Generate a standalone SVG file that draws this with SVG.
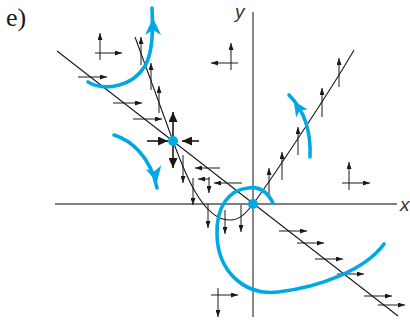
<svg xmlns="http://www.w3.org/2000/svg" width="410" height="320" viewBox="0 0 410 320">
<style>
.ax{stroke:#555;stroke-width:1.4;fill:none}
.ln{stroke:#1a1a1a;stroke-width:1.1;fill:none}
.ar{stroke:#1a1a1a;stroke-width:1;fill:none;marker-end:url(#a)}
.big{stroke:#1a1a1a;stroke-width:1.6;fill:none;marker-end:url(#A)}
.bl{stroke:#00A9E6;stroke-width:3.6;fill:none;stroke-linecap:round}
.bh{fill:#00A9E6}
.dot{fill:#00A9E6}
.lab{font-family:"Liberation Sans",Arial,sans-serif;font-style:italic;fill:#333}
</style>
<defs>
<marker id="a" viewBox="0 0 7 5" refX="7" refY="2.5" markerWidth="7" markerHeight="5" orient="auto" markerUnits="userSpaceOnUse"><path d="M0,0 L7,2.5 L0,5 Z" fill="#1a1a1a"/></marker>
<marker id="A" viewBox="0 0 10 9" refX="10" refY="4.5" markerWidth="10" markerHeight="9" orient="auto" markerUnits="userSpaceOnUse"><path d="M0,0 L10,4.5 L0,9 Z" fill="#1a1a1a"/></marker>
</defs>
<text x="6" y="26" font-family="'Liberation Serif','Times New Roman',serif" font-size="26" fill="#1a1a1a">e)</text>
<g id="axes">
<line class="ax" x1="55" y1="204" x2="397" y2="204"/>
<line class="ax" x1="253" y1="12" x2="253" y2="317"/>
<text class="lab" x="400" y="211" font-size="19">x</text>
<text class="lab" x="235" y="18" font-size="19">y</text>
</g>
<g id="connectors">
<line class="ln" x1="57" y1="51" x2="398" y2="316"/>
<path class="ln" d="M135,37 L173,141 C183,168 202,221 230,220 C240,220 246,213 253,204 C264,190 330,92 354,50"/>
<g id="field">
<line class="ar" x1="100" y1="60" x2="100" y2="33"/>
<line class="ar" x1="95" y1="53" x2="122" y2="53"/>
<line class="ar" x1="231" y1="70" x2="231" y2="43"/>
<line class="ar" x1="238" y1="63" x2="211" y2="63"/>
<line class="ar" x1="349" y1="190" x2="349" y2="162"/>
<line class="ar" x1="342" y1="183" x2="370" y2="183"/>
<line class="ar" x1="218" y1="288" x2="218" y2="317"/>
<line class="ar" x1="211" y1="295" x2="238" y2="295"/>
<line class="ar" x1="210" y1="179" x2="198" y2="179"/>
<line class="ar" x1="209" y1="177" x2="209" y2="193"/>
<line class="ar" x1="78" y1="77" x2="107" y2="77"/>
<line class="ar" x1="113" y1="103" x2="142" y2="103"/>
<line class="ar" x1="133" y1="119" x2="162" y2="119"/>
<line class="ar" x1="279" y1="231" x2="307" y2="231"/>
<line class="ar" x1="297" y1="243" x2="324" y2="243"/>
<line class="ar" x1="315" y1="259" x2="343" y2="259"/>
<line class="ar" x1="337" y1="274" x2="364" y2="274"/>
<line class="ar" x1="364" y1="296" x2="392" y2="296"/>
<line class="ar" x1="378" y1="305" x2="405" y2="305"/>
<line class="ar" x1="220" y1="168" x2="195" y2="168"/>
<line class="ar" x1="242" y1="183" x2="214" y2="183"/>
<line class="ar" x1="141" y1="65" x2="141" y2="37"/>
<line class="ar" x1="151" y1="90" x2="151" y2="63"/>
<line class="ar" x1="159" y1="113" x2="159" y2="86"/>
<line class="ar" x1="269" y1="197" x2="269" y2="168"/>
<line class="ar" x1="282" y1="180" x2="282" y2="152"/>
<line class="ar" x1="298" y1="155" x2="298" y2="127"/>
<line class="ar" x1="322" y1="117" x2="322" y2="88"/>
<line class="ar" x1="339" y1="87" x2="339" y2="58"/>
<line class="ar" x1="183" y1="155" x2="183" y2="183"/>
<line class="ar" x1="193" y1="178" x2="193" y2="205"/>
<line class="ar" x1="208" y1="204" x2="208" y2="228"/>
<line class="ar" x1="225" y1="210" x2="225" y2="234"/>
<line class="ar" x1="241" y1="205" x2="241" y2="232"/>
<line class="big" x1="147" y1="141" x2="168" y2="141"/>
<line class="big" x1="199" y1="141" x2="182" y2="141"/>
<line class="big" x1="173" y1="141" x2="173" y2="112"/>
<line class="big" x1="173" y1="141" x2="173" y2="168"/>
</g>
<g id="trajectories">
<path class="bl" d="M88,82 C105,92 133,86 145,66 C153,52 153,30 152,8"/>
<path class="bh" d="M153,18 L161,35 L153,30 L145,35 Z"/>
<path class="bl" d="M114,135 C130,140 150,155 157,188"/>
<path class="bh" d="M157,182 L161.2,165.5 L154.3,171.3 L145.6,169.3 Z"/>
<path class="bl" d="M310,157 C311,135 306,112 289,95"/>
<path class="bh" d="M293.7,101 L307.8,109.6 L299.8,110.2 L296.2,117.4 Z"/>
<path class="bl" d="M384,244 C365,270 320,287 278,292 C245,296 218,272 217,235 C216,205 230,190 248,188 C260,186 268,193 273,203"/>
</g>
</g>
<g id="node-saddle"><circle class="dot" cx="173" cy="141" r="5"/></g>
<g id="node-origin"><circle class="dot" cx="253" cy="204" r="5"/></g>
</svg>
